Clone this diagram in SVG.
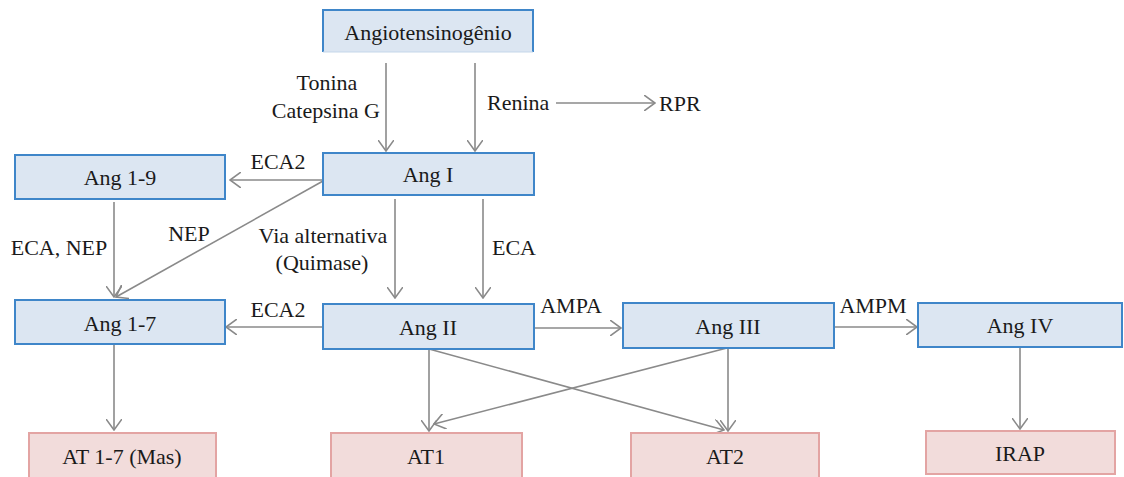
<svg xmlns="http://www.w3.org/2000/svg" width="1124" height="477" viewBox="0 0 1124 477" font-family="'Liberation Serif', 'Times New Roman', serif" font-size="22">
<style>
text{fill:#1a1a1a}
.n{text-anchor:middle;dominant-baseline:central}
.b{fill:#dce6f2;stroke:#3f86c9;stroke-width:2}
.p{fill:#f2dcdb;stroke:#e3a4a3;stroke-width:2}
.c line,.c path{stroke:#8a8a8a;stroke-width:1.6;fill:none}
</style>
<defs>
<marker id="ah" markerUnits="userSpaceOnUse" viewBox="0 0 12 16" markerWidth="12" markerHeight="16" refX="11" refY="8" orient="auto">
<path d="M0,0 L11,8 L0,16" fill="none" stroke="#8a8a8a" stroke-width="1.6"/>
</marker>
</defs>
<rect width="1124" height="477" fill="#ffffff"/>
<g class="c" id="connectors">
<line x1="386" y1="63" x2="386" y2="151" marker-end="url(#ah)"/>
<line x1="475" y1="63" x2="475" y2="151" marker-end="url(#ah)"/>
<line x1="556" y1="103" x2="655" y2="103" marker-end="url(#ah)"/>
<line x1="323" y1="180" x2="230" y2="180" marker-end="url(#ah)"/>
<line x1="114" y1="202" x2="114" y2="297" marker-end="url(#ah)"/>
<line x1="323" y1="181" x2="116" y2="297" marker-end="url(#ah)"/>
<line x1="395" y1="199" x2="395" y2="298" marker-end="url(#ah)"/>
<line x1="483" y1="199" x2="483" y2="298" marker-end="url(#ah)"/>
<line x1="323" y1="327" x2="226" y2="327" marker-end="url(#ah)"/>
<line x1="534" y1="328" x2="621" y2="328" marker-end="url(#ah)"/>
<line x1="834" y1="327" x2="917" y2="327" marker-end="url(#ah)"/>
<line x1="114" y1="345" x2="114" y2="430" marker-end="url(#ah)"/>
<line x1="429" y1="349" x2="429" y2="431" marker-end="url(#ah)"/>
<line x1="429" y1="349" x2="724" y2="430" marker-end="url(#ah)"/>
<line x1="727" y1="348" x2="434" y2="424" marker-end="url(#ah)"/>
<line x1="728" y1="348" x2="728" y2="431" marker-end="url(#ah)"/>
<line x1="1020" y1="347" x2="1020" y2="429" marker-end="url(#ah)"/>
</g>
<g id="labels">
<text x="327" y="82" class="n">Tonina</text>
<text x="380" y="110" text-anchor="end" dominant-baseline="central">Catepsina G</text>
<text x="487" y="102" dominant-baseline="central">Renina</text>
<text x="659" y="103" dominant-baseline="central">RPR</text>
<text x="278" y="161" class="n">ECA2</text>
<text x="59" y="247" class="n">ECA, NEP</text>
<text x="189" y="233" class="n">NEP</text>
<text x="323" y="235" class="n">Via alternativa</text>
<text x="322" y="262" class="n">(Quimase)</text>
<text x="514" y="247" class="n">ECA</text>
<text x="278" y="309" class="n">ECA2</text>
<text x="571" y="305" class="n">AMPA</text>
<text x="873" y="305" class="n">AMPM</text>
</g>
<g id="angiotensinogenio">
<rect x="323" y="10" width="210" height="42" fill="#dce6f2"/>
<path d="M323,52 V10 H533 V52" fill="none" stroke="#3f86c9" stroke-width="2"/>
<path d="M323,52 H533" fill="none" stroke="#c5d7ea" stroke-width="1"/>
<text x="428" y="32" class="n">Angiotensinogênio</text>
</g>
<g id="ang1"><rect class="b" x="323" y="153" width="211" height="42"/><text x="428" y="174" class="n">Ang I</text></g>
<g id="ang19"><rect class="b" x="15" y="155" width="210" height="44"/><text x="120" y="177" class="n">Ang 1-9</text></g>
<g id="ang17"><rect class="b" x="15" y="300" width="210" height="44"/><text x="120" y="323" class="n">Ang 1-7</text></g>
<g id="ang2"><rect class="b" x="323" y="304" width="211" height="45"/><text x="428" y="327" class="n">Ang II</text></g>
<g id="ang3"><rect class="b" x="623" y="303" width="211" height="45"/><text x="728" y="326" class="n">Ang III</text></g>
<g id="ang4"><rect class="b" x="918" y="303" width="204" height="44"/><text x="1020" y="325" class="n">Ang IV</text></g>
<g id="at17"><rect class="p" x="29" y="433" width="187" height="46"/><text x="122" y="456" class="n">AT 1-7 (Mas)</text></g>
<g id="at1"><rect class="p" x="331" y="433" width="191" height="46"/><text x="426" y="456" class="n">AT1</text></g>
<g id="at2"><rect class="p" x="631" y="433" width="188" height="46"/><text x="725" y="456" class="n">AT2</text></g>
<g id="irap"><rect class="p" x="926" y="431" width="189" height="43"/><text x="1020" y="453" class="n">IRAP</text></g>
</svg>
